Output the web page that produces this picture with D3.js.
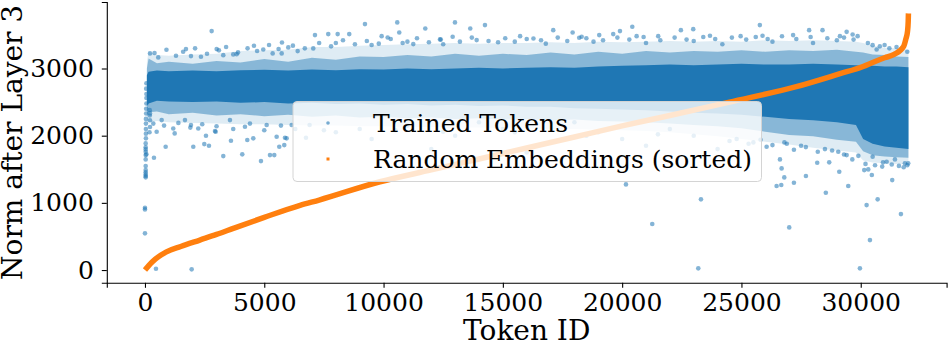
<!DOCTYPE html>
<html>
<head>
<meta charset="utf-8">
<script src="https://cdn.jsdelivr.net/npm/d3@7"></script>
<style>
  body { margin: 0; background: #fff; }
  svg { display: block; font-family: 'DejaVu Serif', serif; }
</style>
</head>
<body>
<svg id="chart"></svg>
<script>
// sorted norms of the random embeddings (token id, norm)
const randomIds   = [0, 300, 900, 1500, 2300, 3000, 3700, 5000, 6500, 7300, 9850, 12000, 15000, 18000, 20000, 22000, 24500, 27300, 29100, 30100, 30500, 31000, 31400, 31800, 31900, 31960, 31990, 31999];
const randomNorms = [0, 120, 270, 350, 446, 530, 620, 784, 963, 1042, 1314, 1490, 1735, 1980, 2145, 2300, 2500, 2730, 2920, 3030, 3090, 3160, 3210, 3330, 3450, 3550, 3700, 3820];

// trained tokens: dense band (saturated core, inner fringe, outer halo)
const bandIds    = [80, 150, 500, 1000, 2000, 3000, 4000, 5000, 6000, 7000, 8000, 9000, 10000, 11000, 12000, 13000, 14000, 15000, 16000, 17000, 18000, 19000, 20000, 21000, 22000, 23000, 24000, 25000, 26000, 27000, 28000, 29000, 29800, 30100, 30500, 31000, 31500, 31999];
const coreHigh   = [2900, 2950, 2970, 2960, 2970, 2960, 2975, 2980, 2970, 2985, 2975, 2990, 2985, 3000, 2990, 3000, 3010, 3000, 3010, 3020, 3010, 3030, 3040, 3050, 3060, 3050, 3060, 3070, 3060, 3060, 3070, 3060, 3050, 3040, 3040, 3030, 3030, 3020];
const coreLow    = [2450, 2480, 2520, 2510, 2500, 2510, 2490, 2500, 2480, 2490, 2470, 2480, 2460, 2470, 2450, 2460, 2440, 2450, 2430, 2430, 2410, 2400, 2390, 2380, 2360, 2340, 2330, 2310, 2280, 2250, 2230, 2200, 2160, 1950, 1880, 1840, 1820, 1800];
const fringeHigh = [3000, 3150, 3080, 3100, 3070, 3110, 3090, 3140, 3100, 3160, 3130, 3180, 3170, 3200, 3180, 3220, 3190, 3220, 3200, 3240, 3210, 3250, 3220, 3260, 3240, 3260, 3250, 3270, 3250, 3270, 3260, 3280, 3250, 3240, 3210, 3200, 3180, 3170];
const fringeLow  = [2300, 2350, 2360, 2320, 2340, 2300, 2320, 2290, 2310, 2280, 2300, 2270, 2280, 2260, 2270, 2250, 2260, 2240, 2250, 2230, 2240, 2220, 2210, 2200, 2180, 2160, 2140, 2110, 2060, 2010, 1990, 1940, 1910, 1770, 1710, 1690, 1680, 1670];
const haloHigh   = [3100, 3250, 3200, 3190, 3210, 3220, 3260, 3270, 3280, 3320, 3320, 3340, 3350, 3360, 3370, 3380, 3370, 3380, 3380, 3390, 3380, 3400, 3390, 3400, 3410, 3400, 3410, 3400, 3420, 3410, 3420, 3410, 3400, 3380, 3340, 3310, 3300, 3280];
const haloLow    = [2180, 2200, 2220, 2200, 2190, 2180, 2170, 2170, 2160, 2150, 2150, 2140, 2140, 2130, 2130, 2120, 2120, 2110, 2110, 2100, 2100, 2090, 2080, 2070, 2050, 2020, 1990, 1950, 1910, 1870, 1820, 1780, 1750, 1630, 1600, 1590, 1580, 1570];

// trained tokens that sit outside the band (token id, norm)
const trainedOutliers = [
  [0, 546], [0, 903], [0, 927], [30, 1380], [30, 1399], [30, 1424], [30, 1454], [30, 1488], [30, 1548],
  [30, 1647], [30, 1711], [30, 1760], [30, 1796], [30, 1826], [30, 1885], [60, 1722], [40, 1960], [40, 2030],
  [40, 2100], [40, 2180], [40, 2250], [50, 2330], [50, 2400], [60, 2480], [60, 2560], [60, 2620], [50, 2700],
  [60, 2780], [200, 2380], [200, 2300], [210, 2230], [210, 2130], [190, 2050],
  [377, 1671], [461, 20], [1957, 10], [867, 1835], [1245, 2034], [2025, 1835], [2486, 1875], [2682, 1850],
  [2934, 2068], [3282, 1696], [3604, 1924], [4078, 1722], [4288, 1935], [4862, 1622], [5239, 1711],
  [5419, 1711], [5629, 1835], [5838, 1860], [5868, 1969], [6748, 1969],
  [700, 2232], [1186, 2108], [1928, 2158], [2234, 2108], [2557, 1999], [2963, 2058], [3562, 2232],
  [4191, 2133], [4539, 1960], [5100, 2158], [5519, 1984], [5938, 1960], [6148, 2158], [1676, 2232],
  [210, 2332], [490, 2058],
  [210, 3225], [1718, 3289], [2795, 3557], [3005, 3289], [4568, 3338], [5742, 3388], [3700, 3210],
  [557, 3165], [1928, 3185], [2347, 3174], [3282, 3199], [5352, 3225], [5730, 3225], [3843, 3214],
  [4958, 3284], [6006, 3314], [7054, 3299], [6400, 3259],
  [7125, 3497], [7682, 3512], [8076, 3512], [8562, 3512], [9220, 3661], [9920, 3482], [10172, 3462],
  [10574, 3686], [10658, 3537], [11245, 3363], [11749, 3596], [12364, 3433], [12896, 3472], [12993, 3686],
  [13634, 3596], [13902, 3423], [14250, 3646], [15723, 3482], [16282, 3447], [17112, 3571], [17925, 3537],
  [18200, 3457], [18302, 3472], [19040, 3497], [19626, 3512], [19908, 3557], [20425, 3621], [20607, 3482],
  [21512, 3482], [22462, 3571], [22980, 3586], [23680, 3487], [24966, 3482], [25771, 3646], [25884, 3487],
  [27166, 3497], [27837, 3571], [28398, 3571], [29128, 3482], [29409, 3546], [29661, 3507], [29870, 3482],
  [30499, 3348], [30667, 3284],
  [8000, 3380], [9500, 3350], [11000, 3400], [12500, 3360], [14800, 3390], [16800, 3370], [18800, 3400],
  [21000, 3380], [23000, 3410], [24200, 3360], [26300, 3400], [28000, 3380], [29000, 3420], [31000, 3350],
  [31500, 3320],
  [21262, 685], [23191, 25], [23303, 1052], [27003, 635], [29966, 25], [30386, 446], [30246, 967],
  [30709, 1052], [31685, 833], [28537, 1150], [29477, 1250], [30316, 1498], [31320, 1339], [29100, 1463],
  [27703, 1399], [27200, 1299], [26474, 1250], [26670, 1265], [26796, 1379], [26684, 1513], [26614, 1647],
  [28176, 1597], [28679, 1603], [29409, 1711], [30147, 1488], [30499, 1686], [31086, 1612], [31852, 1588],
  [26055, 1835], [29058, 1760], [30465, 1414], [29647, 1647], [30935, 1603], [31433, 1647], [31990, 1588],
  [25500, 1900], [27500, 1850], [28500, 1800], [26900, 1880], [24800, 1950], [20160, 1275],
  [8000, 2050], [9500, 1950], [11000, 2150], [13000, 2000], [15000, 2100], [17000, 1900], [19000, 2050],
  [21000, 1850], [23000, 2000], [24000, 1800], [12000, 1800], [16000, 1750], [20000, 1950], [22000, 2100],
  [14000, 2200], [18000, 2200]
];

// scattered trained tokens along the upper and lower edge of the band
const trainedEdge = [
  [400, 3230], [900, 3280], [1300, 3190], [1600, 3250], [2100, 3300], [2600, 3220], [3100, 3270], [3400, 3320],
  [3900, 3240], [4300, 3300], [4700, 3260], [5200, 3350], [5600, 3290], [6200, 3340], [6700, 3300], [7300, 3380],
  [7800, 3330], [8300, 3420], [8800, 3360], [9300, 3410], [9800, 3370], [10300, 3440], [10800, 3380], [11400, 3450],
  [11900, 3390], [12400, 3430], [13200, 3400], [13700, 3460], [14400, 3410], [15100, 3450], [15500, 3400], [16000, 3440],
  [16600, 3420], [17300, 3460], [17700, 3410], [18500, 3450], [19200, 3420], [19800, 3460], [20300, 3430], [20900, 3470],
  [21600, 3420], [22200, 3460], [22700, 3430], [23400, 3470], [23900, 3440], [24600, 3460], [25200, 3430], [25600, 3470],
  [26100, 3440], [26700, 3480], [27300, 3440], [27900, 3470], [28600, 3450], [29300, 3460], [29700, 3430], [30300, 3380],
  [30800, 3330], [31200, 3300], [31700, 3290], [31950, 3250],
  [350, 2180], [800, 2150], [1400, 2190], [1900, 2120], [2400, 2170], [3000, 2140], [3700, 2100], [4400, 2180],
  [5000, 2080], [5700, 2150], [6300, 2100], [6900, 2160], [7500, 2080], [9000, 2100], [10500, 2080], [12500, 2060],
  [15500, 2050], [18500, 2000], [21500, 2020], [24500, 1920], [25300, 1880], [25800, 1940], [26300, 1860], [26800, 1900],
  [27200, 1790], [27700, 1830], [28200, 1760], [28800, 1780], [29300, 1720], [29900, 1700], [30200, 1580], [30600, 1560],
  [30900, 1540], [31300, 1570], [31600, 1550], [31800, 1530], [31950, 1560]
];

const xTicks = [0, 5000, 10000, 15000, 20000, 25000, 30000];
const yTicks = [0, 1000, 2000, 3000];
const legendLabels = ['Trained Tokens', 'Random Embeddings (sorted)'];

const width = 949;
const height = 341;
const blue = '#1f77b4';
const orange = '#ff7f0e';

const svg = d3.select('#chart')
  .attr('width', width)
  .attr('height', height);

const x = d3.scaleLinear()
  .domain([-1600, 33599])
  .range([106.8, 946.6]);

const y = d3.scaleLinear()
  .domain([-190, 3990])
  .range([282.8, 2]);

const band = bandIds.map((id, i) => ({
  id,
  coreLow: coreLow[i], coreHigh: coreHigh[i],
  fringeLow: fringeLow[i], fringeHigh: fringeHigh[i],
  haloLow: haloLow[i], haloHigh: haloHigh[i]
}));

const area = (lo, hi) => d3.area()
  .x(d => x(d.id))
  .y0(d => y(d[lo]))
  .y1(d => y(d[hi]));

svg.append('path')
  .datum(band)
  .attr('d', area('haloLow', 'haloHigh'))
  .style('fill', blue)
  .style('fill-opacity', 0.14);

svg.append('path')
  .datum(band)
  .attr('d', area('fringeLow', 'fringeHigh'))
  .style('fill', blue)
  .style('fill-opacity', 0.45);

svg.append('path')
  .datum(band)
  .attr('d', area('coreLow', 'coreHigh'))
  .style('fill', blue);

svg.append('g')
  .selectAll('circle')
  .data(trainedOutliers.concat(trainedEdge))
  .join('circle')
  .attr('cx', d => x(d[0]))
  .attr('cy', d => y(d[1]))
  .attr('r', 2.3)
  .style('fill', blue)
  .style('fill-opacity', 0.55);

// orange sorted curve
const line = d3.line()
  .x((d, i) => x(randomIds[i]))
  .y(d => y(d))
  .curve(d3.curveMonotoneX);

svg.append('path')
  .datum(randomNorms)
  .attr('d', line)
  .style('fill', 'none')
  .style('stroke', orange)
  .style('stroke-width', 5.5)
  .style('stroke-linejoin', 'round');

// axes
const xAxis = svg.append('g')
  .attr('transform', `translate(0,${y.range()[0]})`)
  .call(d3.axisBottom(x).tickValues(xTicks).tickSize(5).tickPadding(5).tickFormat(d3.format('d')));

const yAxis = svg.append('g')
  .attr('transform', `translate(${x.range()[0]},0)`)
  .call(d3.axisLeft(y).tickValues(yTicks).tickSize(5).tickPadding(8).tickFormat(d3.format('d')));

[xAxis, yAxis].forEach(g => {
  g.select('.domain').attr('stroke', '#000').attr('stroke-width', 1.1);
  g.selectAll('.tick line').attr('stroke', '#000').attr('stroke-width', 1.1);
  g.selectAll('.tick text')
    .attr('fill', '#000')
    .style('font-family', "'DejaVu Serif', serif")
    .style('font-size', '25px');
});

svg.append('text')
  .attr('x', (x.range()[0] + x.range()[1]) / 2)
  .attr('y', 340)
  .attr('text-anchor', 'middle')
  .style('font-size', '28px')
  .text('Token ID');

svg.append('text')
  .attr('transform', `translate(22,${(y.range()[0] + y.range()[1]) / 2}) rotate(-90)`)
  .attr('text-anchor', 'middle')
  .style('font-size', '28px')
  .text('Norm after Layer 3');

// legend
const legend = svg.append('g');

legend.append('rect')
  .attr('x', 293)
  .attr('y', 101.5)
  .attr('width', 468.5)
  .attr('height', 80)
  .attr('rx', 4)
  .style('fill', '#fff')
  .style('fill-opacity', 0.8)
  .style('stroke', '#d4d4d4')
  .style('stroke-width', 1);

legend.append('circle')
  .attr('cx', 328)
  .attr('cy', 123)
  .attr('r', 1.8)
  .style('fill', blue)
  .style('fill-opacity', 0.6);

legend.append('rect')
  .attr('x', 326.5)
  .attr('y', 157.5)
  .attr('width', 3)
  .attr('height', 3)
  .style('fill', orange);

legend.selectAll('text')
  .data(legendLabels)
  .join('text')
  .attr('x', 373)
  .attr('y', (d, i) => 123 + i * 36)
  .attr('dominant-baseline', 'central')
  .style('font-size', '25px')
  .text(d => d);
</script>
</body>
</html>
